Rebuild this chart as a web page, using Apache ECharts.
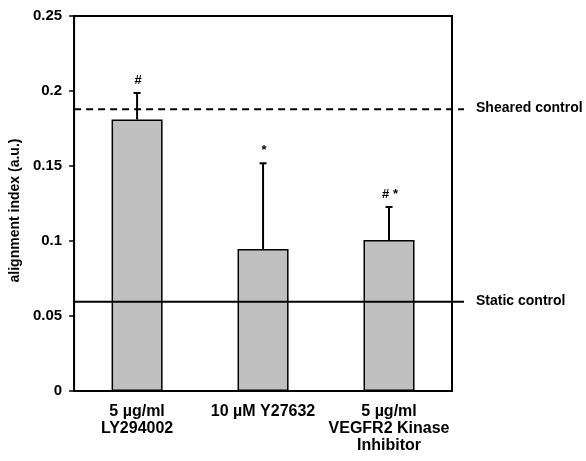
<!DOCTYPE html>
<html>
<head>
<meta charset="utf-8">
<script src="https://cdn.jsdelivr.net/npm/echarts@6/dist/echarts.min.js"></script>
<style>html,body{margin:0;padding:0;background:#fff}#c{width:586px;height:461px}</style>
</head>
<body>
<div id="c"></div>
<script>
var categories = ['5 µg/ml\nLY294002', '10 µM Y27632', '5 µg/ml\nVEGFR2 Kinase\nInhibitor'];
var means = [0.181, 0.0947, 0.1007];
var errorTops = [0.1987, 0.1518, 0.1227];
var annotations = ['#', '*', '# *'];
var refValues = [0.1878, 0.0595];
var refLabels = ['Sheared control', 'Static control'];
var refDashed = [true, false];
var yTicks = [0, 0.05, 0.1, 0.15, 0.2, 0.25];

var FONT = 'Liberation Sans, Arial, sans-serif';
var chart = echarts.init(document.getElementById('c'));
chart.setOption({
  animation: false,
  backgroundColor: '#fff',
  grid: { left: 74, top: 16, right: 134, bottom: 70, show: true, borderColor: '#000', borderWidth: 2, containLabel: false },
  xAxis: {
    type: 'category', data: categories,
    axisLine: { lineStyle: { color: '#000', width: 2 } },
    axisTick: { show: false },
    axisLabel: { color: '#000', fontFamily: FONT, fontWeight: 'bold', fontSize: 16, lineHeight: 17, margin: 12, interval: 0 }
  },
  yAxis: {
    type: 'value', min: 0, max: 0.25, interval: 0.05,
    name: 'alignment index (a.u.)', nameLocation: 'middle', nameGap: 50,
    nameTextStyle: { color: '#000', fontFamily: FONT, fontWeight: 'bold', fontSize: 14, padding: [0, 14, 0, 0] },
    axisLine: { show: true, lineStyle: { color: '#000', width: 2 } },
    axisTick: { show: true, length: 5, lineStyle: { color: '#000', width: 1.5 } },
    splitLine: { show: false },
    axisLabel: { color: '#000', fontFamily: FONT, fontWeight: 'bold', fontSize: 15, margin: 12,
      formatter: function (v) { return String(Math.round(v * 100) / 100); } }
  },
  series: [
    {
      type: 'bar', data: means, barWidth: '40.5%',
      itemStyle: { color: '#c0c0c0', borderColor: '#000', borderWidth: 1.5 },
      z: 2
    },
    {
      type: 'custom', z: 3,
      data: means.map(function (m, i) { return [i, m, errorTops[i]]; }),
      renderItem: function (params, api) {
        var i = api.value(0);
        var p0 = api.coord([i, api.value(1)]);
        var p1 = api.coord([i, api.value(2)]);
        return {
          type: 'group',
          children: [
            { type: 'line', shape: { x1: p0[0], y1: p0[1], x2: p1[0], y2: p1[1] }, style: { stroke: '#000', lineWidth: 2 } },
            { type: 'line', shape: { x1: p1[0] - 3.5, y1: p1[1], x2: p1[0] + 3.5, y2: p1[1] }, style: { stroke: '#000', lineWidth: 2 } },
            { type: 'text', style: { text: annotations[params.dataIndex], x: p1[0] + 1, y: p1[1] - 6, align: 'center', verticalAlign: 'bottom', fill: '#000', font: 'bold 13px ' + FONT } }
          ]
        };
      }
    },
    {
      type: 'custom', z: 4, clip: false,
      data: refValues.map(function (v, i) { return [0, v, i]; }),
      renderItem: function (params, api) {
        var cs = params.coordSys;
        var y = api.coord([0, api.value(1)])[1];
        var k = params.dataIndex;
        var xEnd = cs.x + cs.width + 12;
        return {
          type: 'group',
          children: [
            { type: 'line', shape: { x1: cs.x, y1: y, x2: xEnd, y2: y }, style: { stroke: '#000', lineWidth: 2, lineDash: refDashed[k] ? [7, 5] : null } },
            { type: 'text', style: { text: refLabels[k], x: xEnd + 12, y: y - 1, align: 'left', verticalAlign: 'middle', fill: '#000', font: 'bold 14px ' + FONT } }
          ]
        };
      }
    }
  ]
});
</script>
</body>
</html>
